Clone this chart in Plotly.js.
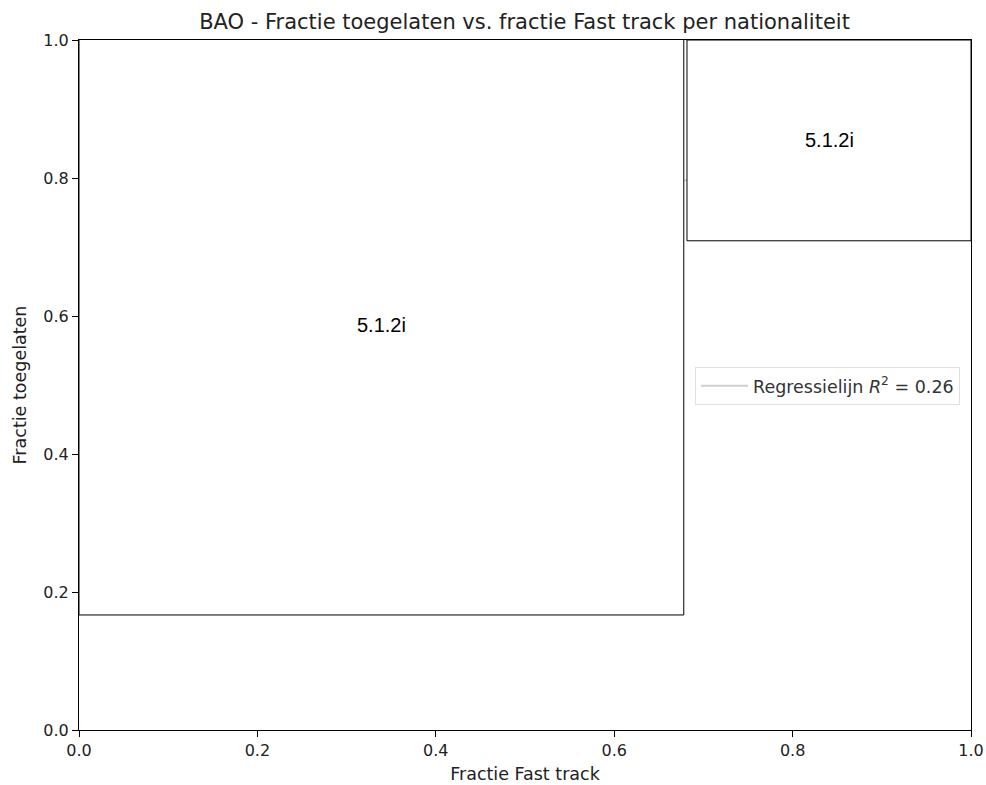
<!DOCTYPE html>
<html>
<head>
<meta charset="utf-8">
<script src="https://cdn.plot.ly/plotly-3.0.1.min.js"></script>
<style>html,body{margin:0;padding:0;background:#fff;}#chart{width:986px;height:785px;}</style>
</head>
<body>
<div id="chart"></div>
<script>
// Regression line (estimated; hidden beneath the redaction boxes)
const regX = [0.0, 1.0];
const regY = [0.62, 0.88];
const regName = 'Regressielijn <i>R</i><sup>2</sup> = 0.26';

// Redaction boxes (data coordinates)
const boxX0 = [0.0, 0.6816];
const boxX1 = [0.678, 1.0];
const boxY0 = [0.1667, 0.709];
const boxY1 = [1.004, 1.0];
const boxLabel = ['5.1.2i', '5.1.2i'];
const labelX = [0.339, 0.841];
const labelY = [0.587, 0.855];

const tickVals = [0.0, 0.2, 0.4, 0.6, 0.8, 1.0];
const tickText = ['0.0', '0.2', '0.4', '0.6', '0.8', '1.0'];

const fontMain = 'DejaVu Sans, sans-serif';

const traces = [{
  x: regX, y: regY, mode: 'lines', type: 'scatter', name: regName,
  line: {color: '#d0d0d0', width: 2}, showlegend: true, hoverinfo: 'skip'
}];

const shapes = boxX0.map((x0, i) => ({
  type: 'rect', xref: 'x', yref: 'y', layer: 'above',
  x0: x0, x1: boxX1[i], y0: boxY0[i], y1: boxY1[i],
  fillcolor: '#ffffff', line: {color: '#000000', width: 1}
}));

const annotations = boxLabel.map((t, i) => ({
  x: labelX[i], y: labelY[i], xref: 'x', yref: 'y', text: t, showarrow: false,
  font: {family: 'Liberation Sans, Arial, sans-serif', size: 20, color: '#000'}
}));

const axisCommon = {
  range: [0, 1], tickvals: tickVals, ticktext: tickText,
  ticks: 'outside', ticklen: 6, tickwidth: 1, tickcolor: '#000',
  showline: true, linecolor: '#000', linewidth: 1, mirror: true,
  showgrid: false, zeroline: false,
  tickfont: {family: fontMain, size: 16, color: '#222'}
};

const layout = {
  width: 986, height: 785,
  margin: {l: 79, r: 15, t: 40, b: 55},
  paper_bgcolor: '#fff', plot_bgcolor: '#fff',
  title: {text: 'BAO - Fractie toegelaten vs. fractie Fast track per nationaliteit',
    font: {family: fontMain, size: 21, color: '#222'}, x: 0.532, xanchor: 'center', y: 0.972, yanchor: 'middle'},
  xaxis: Object.assign({}, axisCommon, {
    title: {text: 'Fractie Fast track', font: {family: fontMain, size: 17.5, color: '#222'}, standoff: 8}
  }),
  yaxis: Object.assign({}, axisCommon, {
    title: {text: 'Fractie toegelaten', font: {family: fontMain, size: 17.5, color: '#222'}, standoff: 12}
  }),
  showlegend: true,
  legend: {x: 0.6906, y: 0.4986, xanchor: 'left', yanchor: 'middle', itemwidth: 47,
    bgcolor: 'rgba(255,255,255,0.9)', bordercolor: '#e0e0e0', borderwidth: 1,
    font: {family: fontMain, size: 17.5, color: '#333'}},
  shapes: shapes,
  annotations: annotations
};

Plotly.newPlot('chart', traces, layout, {staticPlot: true, displayModeBar: false});
</script>
</body>
</html>
